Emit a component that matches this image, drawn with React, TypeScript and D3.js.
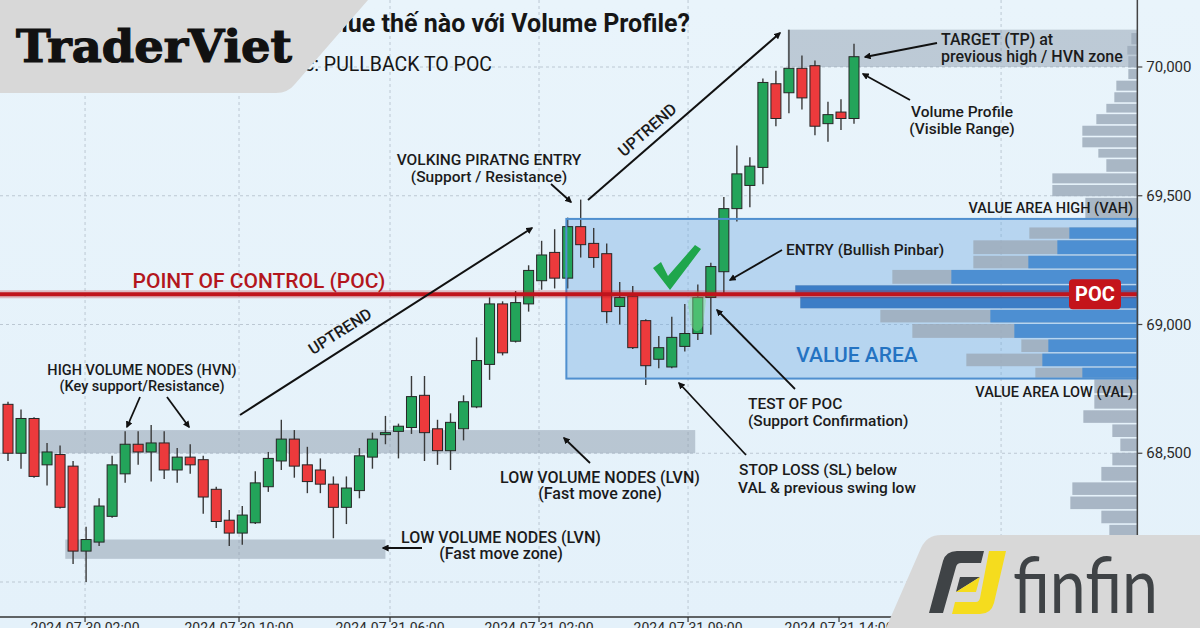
import React from "react";
import * as d3 from "d3";

const W = 1200;
const H = 628;

// ---- candle data (one candle per hour) ----
const candleOpen = [68690, 68500, 68635, 68455, 68495, 68450, 68120, 68155, 68255, 68420, 68535, 68505, 68540, 68435, 68485, 68475, 68360, 68240, 68190, 68230, 68370, 68470, 68555, 68455, 68435, 68380, 68290, 68355, 68485, 68575, 68585, 68600, 68725, 68595, 68510, 68595, 68680, 68845, 69080, 68935, 69080, 69170, 69280, 69180, 69380, 69315, 69275, 69070, 69110, 69015, 68865, 68835, 68915, 68965, 69105, 69205, 69450, 69540, 69610, 69935, 69900, 69995, 70005, 69780, 69825, 69800];
const candleHigh = [68700, 68670, 68640, 68540, 68530, 68470, 68215, 68325, 68490, 68585, 68585, 68610, 68585, 68520, 68535, 68490, 68370, 68280, 68295, 68430, 68505, 68630, 68590, 68525, 68480, 68410, 68410, 68520, 68580, 68645, 68615, 68800, 68800, 68630, 68655, 68725, 68950, 69105, 69090, 69130, 69230, 69325, 69370, 69415, 69485, 69375, 69315, 69165, 69150, 69020, 68955, 69030, 69080, 69155, 69240, 69495, 69695, 69650, 69955, 69985, 70145, 70045, 70025, 69865, 69875, 70090];
const candleLow = [68470, 68440, 68405, 68375, 68285, 68070, 68000, 68140, 68250, 68385, 68455, 68390, 68400, 68385, 68420, 68265, 68210, 68140, 68145, 68225, 68350, 68435, 68405, 68345, 68345, 68170, 68225, 68325, 68440, 68535, 68480, 68575, 68470, 68455, 68435, 68550, 68675, 68785, 68880, 68930, 69050, 69135, 69140, 69140, 69260, 69220, 69005, 69000, 68905, 68765, 68830, 68830, 68895, 68940, 68960, 69120, 69400, 69455, 69545, 69770, 69820, 69835, 69735, 69710, 69755, 69780];
const candleClose = [68500, 68635, 68410, 68505, 68290, 68120, 68165, 68295, 68455, 68535, 68505, 68540, 68435, 68485, 68455, 68330, 68235, 68190, 68260, 68385, 68480, 68555, 68450, 68390, 68380, 68290, 68365, 68490, 68555, 68580, 68605, 68720, 68580, 68510, 68620, 68700, 68860, 69080, 68890, 69085, 69210, 69270, 69180, 69380, 69310, 69260, 69050, 69105, 68910, 68840, 68910, 68950, 68965, 69105, 69225, 69450, 69585, 69615, 69940, 69800, 69995, 69880, 69770, 69815, 69800, 70040];

// ---- axes ----
const yTickValues = [68000, 68500, 69000, 69500, 70000];
const xTickLabels = ["2024-07-30 02:00", "2024-07-30 10:00", "2024-07-31 06:00", "2024-07-31 02:00", "2024-07-31 09:00", "2024-07-31 14:00"];
const xTickIndex = [5.92, 17.75, 29.35, 40.8, 52.25, 63.85];
const xGridIndex = [5.92, 17.75, 29.35, 40.8, 52.25, 76.3];

// ---- volume profile (bins: edges descending, volumes per bin) ----
const profileEdges = [70135, 70085, 70045, 69995, 69950, 69905, 69860, 69820, 69775, 69730, 69685, 69645, 69590, 69545, 69495, 69410,
  69380, 69330, 69270, 69215, 69155, 69110, 69060, 69005, 68945, 68890, 68835, 68790,
  68730, 68670, 68615, 68560, 68505, 68450, 68390, 68335, 68280, 68225, 68170, 68115, 68060, 68005, 67950];
const profileTotal = [60, 100, 90, 90, 210, 230, 310, 410, 550, 550, 390, 310, 850, 850, 520,
  0, 1080, 1640, 1640, 2450, 3420, 3370, 2570, 2250, 1160, 1710, 1020,
  430, 430, 540, 250, 170, 250, 360, 650, 670, 360, 280, 300, 250, 200, 150];
const profileInner = [0, 0, 0, 0, 0, 0, 0, 0, 0, 0, 0, 0, 0, 0, 0,
  0, 680, 800, 1090, 1860, 3420, 3370, 1470, 1230, 890, 950, 550,
  0, 0, 0, 0, 0, 0, 0, 0, 0, 0, 0, 0, 0, 0, 0];

// ---- key levels ----
const pocPrice = 69117;
const vahPrice = 69410;
const valPrice = 68790;
// zones: [startIndex, endIndex, highPrice, lowPrice]
const hvnZone = [2.3, 52.8, 68590, 68500];
const lvnZone = [4.4, 29.0, 68165, 68090];
const tpZone = [59.9, 86.8, 70145, 70000];
const vaStartIndex = 42.9;

const FONT = "Roboto, 'Noto Sans', sans-serif";

function Arrow({ x1, y1, x2, y2, w = 1.8 }: any) {
  return <line x1={x1} y1={y1} x2={x2} y2={y2} stroke="#111" strokeWidth={w} markerEnd="url(#arrowHead)" />;
}

function Label({ x, y, lines, anchor = "middle", size = 15.5, weight = 500, fill = "#1b1b1b", gap = 17, xs }: any) {
  return (
    <text x={x} y={y} textAnchor={anchor} fontFamily={FONT} fontSize={size} fontWeight={weight} fill={fill}>
      {lines.map((l: string, i: number) => (
        <tspan key={i} x={xs ? xs[i] : x} dy={i === 0 ? 0 : gap}>{l}</tspan>
      ))}
    </text>
  );
}

export default function App() {
  const x = d3.scaleLinear().domain([0, 65]).range([8, 854]);
  const y = d3.scaleLinear().domain([68000, 70000]).range([582, 67]);
  const axisX = x(86.77);
  const axisY = 617;
  const vol = d3.scaleLinear().domain([0, 3420]).range([0, 342]);
  const bodyW = 10;
  const fmt = d3.format(",");

  const bins = profileTotal.map((t, k) => ({
    top: profileEdges[k],
    bottom: profileEdges[k + 1],
    total: t,
    inner: profileInner[k],
  }));

  return (
    <svg width={W} height={H} viewBox={`0 0 ${W} ${H}`} style={{ display: "block", position: "absolute", left: 0, top: 0 }}>
      <defs>
        <marker id="arrowHead" viewBox="0 0 10 10" refX="8" refY="5" markerWidth="7" markerHeight="7" orient="auto" markerUnits="userSpaceOnUse">
          <path d="M0,0 L10,5 L0,10 Z" fill="#111" />
        </marker>
        <linearGradient id="bg" x1="0" y1="0" x2="0" y2="1">
          <stop offset="0" stopColor="#e9f4fb" />
          <stop offset="1" stopColor="#e4f1fa" />
        </linearGradient>
      </defs>
      <rect x={0} y={0} width={W} height={H} fill="url(#bg)" />

      {/* grid */}
      {yTickValues.map((v) => (
        <line key={"gy" + v} x1={0} x2={axisX} y1={y(v)} y2={y(v)} stroke="#bcc8d3" strokeWidth={1} strokeDasharray="3,3" />
      ))}
      {xGridIndex.map((v) => (
        <line key={"gx" + v} x1={x(v)} x2={x(v)} y1={0} y2={axisY} stroke="#bcc8d3" strokeWidth={1} strokeDasharray="3,3" />
      ))}

      {/* zones */}
      <rect x={x(hvnZone[0])} width={x(hvnZone[1]) - x(hvnZone[0])} y={y(hvnZone[2])} height={y(hvnZone[3]) - y(hvnZone[2])} fill="#8796a8" fillOpacity={0.48} />
      <rect x={x(lvnZone[0])} width={x(lvnZone[1]) - x(lvnZone[0])} y={y(lvnZone[2])} height={y(lvnZone[3]) - y(lvnZone[2])} fill="#8796a8" fillOpacity={0.48} />
      <rect x={x(tpZone[0])} width={axisX - x(tpZone[0])} y={y(tpZone[2])} height={y(tpZone[3]) - y(tpZone[2])} fill="#8796a8" fillOpacity={0.45} />
      <rect x={x(vaStartIndex)} width={axisX - x(vaStartIndex)} y={y(vahPrice)} height={y(valPrice) - y(vahPrice)} fill="#6aa6e0" fillOpacity={0.38} />

      {/* candles */}
      {candleOpen.map((o, i) => {
        const c = candleClose[i];
        const up = c >= o;
        const top = y(Math.max(o, c));
        const bot = y(Math.min(o, c));
        return (
          <g key={"c" + i}>
            <line x1={x(i)} x2={x(i)} y1={y(candleHigh[i])} y2={y(candleLow[i])} stroke="#3a3a3a" strokeWidth={1.4} />
            <rect x={x(i) - bodyW / 2} y={top} width={bodyW} height={Math.max(2, bot - top)} fill={up ? "#23a45a" : "#ec3a3c"} stroke="#262626" strokeWidth={1} />
          </g>
        );
      })}

      {/* pinbar glow */}
      <path d="M688,303 Q697,280 706,300 L703,326 Q697,336 691,326 Z" fill="#7fe08f" fillOpacity={0.45} />

      {/* check mark */}
      <path d="M653,268 L661,262 L668,276 L695,245 L701,249 L670,290 Z" fill="#1fa64c" />

      {/* volume profile */}
      {bins.map((b, k) =>
        b.total > 0 ? (
          <g key={"p" + k}>
            <rect x={axisX - vol(b.total)} width={vol(b.total)} y={y(b.top) + 0.8} height={y(b.bottom) - y(b.top) - 1.6} fill="#9eabbb" fillOpacity={0.85} />
            {b.inner > 0 && (
              <rect x={axisX - vol(b.inner)} width={vol(b.inner)} y={y(b.top) + 0.8} height={y(b.bottom) - y(b.top) - 1.6} fill={b.inner >= 3000 ? "#3c7dc6" : "#4d8fd2"} />
            )}
          </g>
        ) : null
      )}

      {/* value area border */}
      <rect x={x(vaStartIndex)} width={axisX - x(vaStartIndex)} y={y(vahPrice)} height={y(valPrice) - y(vahPrice)} fill="none" stroke="#4f8fcf" strokeWidth={2} />

      {/* POC line */}
      <line x1={0} x2={axisX} y1={y(pocPrice)} y2={y(pocPrice)} stroke="#c0141c" strokeOpacity={0.25} strokeWidth={8} />
      <line x1={0} x2={axisX} y1={y(pocPrice)} y2={y(pocPrice)} stroke="#c0141c" strokeWidth={4} />
      <rect x={1069} y={y(pocPrice) - 15} width={52} height={30} rx={4} fill="#c4141b" />
      <text x={1095} y={y(pocPrice) + 7} textAnchor="middle" fontFamily={FONT} fontSize={20} fontWeight={700} fill="#fff">POC</text>

      {/* axes */}
      <line x1={axisX} x2={axisX} y1={0} y2={axisY} stroke="#444" strokeWidth={1.5} />
      {yTickValues.map((v) => (
        <g key={"yt" + v}>
          <line x1={axisX} x2={axisX + 5} y1={y(v)} y2={y(v)} stroke="#444" strokeWidth={1.2} />
          <text x={axisX + 9} y={y(v) + 5} fontFamily={FONT} fontSize={15} fill="#2b2b2b">{fmt(v)}</text>
        </g>
      ))}
      <line x1={0} x2={axisX} y1={axisY} y2={axisY} stroke="#333" strokeWidth={1.3} />
      {xTickIndex.map((v, i) => (
        <g key={"xt" + i}>
          <line x1={x(v)} x2={x(v)} y1={axisY} y2={axisY + 5} stroke="#333" strokeWidth={1.2} />
          <text x={x(v)} y={axisY + 16} textAnchor="middle" fontFamily={FONT} fontSize={14} fill="#2b2b2b">{xTickLabels[i]}</text>
        </g>
      ))}

      {/* titles */}
      <text x={690} y={32} textAnchor="end" fontFamily={FONT} fontSize={25} fontWeight={700} fill="#161616">Giao dịch Pullback Value thế nào với Volume Profile?</text>
      <text x={492} y={71} textAnchor="end" fontFamily={FONT} fontSize={19.5} fontWeight={400} fill="#161616">Chiến lược: PULLBACK TO POC</text>

      {/* annotations */}
      <text x={259} y={288} textAnchor="middle" fontFamily={FONT} fontSize={21} fontWeight={500} fill="#b3161d">POINT OF CONTROL (POC)</text>
      <text x={857} y={362} textAnchor="middle" fontFamily={FONT} fontSize={21} fontWeight={500} fill="#2473c2">VALUE AREA</text>
      <Label x={1133} y={213} anchor="end" size={14.5} lines={["VALUE AREA HIGH (VAH)"]} />
      <Label x={1133} y={397} anchor="end" size={14.5} lines={["VALUE AREA LOW (VAL)"]} />
      <Label x={941} y={45} anchor="start" size={16} lines={["TARGET (TP) at", "previous high / HVN zone"]} />
      <Label x={962} y={117} lines={["Volume Profile", "(Visible Range)"]} />
      <Label x={786} y={255} anchor="start" lines={["ENTRY (Bullish Pinbar)"]} />
      <Label x={748} y={409} anchor="start" lines={["TEST OF POC", "(Support Confirmation)"]} />
      <Label x={818} y={475} xs={[818, 827]} lines={["STOP LOSS (SL) below", "VAL & previous swing low"]} gap={18} />
      <Label x={600} y={483} lines={["LOW VOLUME NODES (LVN)", "(Fast move zone)"]} size={16} gap={16} />
      <Label x={501} y={543} lines={["LOW VOLUME NODES (LVN)", "(Fast move zone)"]} size={16} gap={16} />
      <Label x={142} y={375} lines={["HIGH VOLUME NODES (HVN)", "(Key support/Resistance)"]} size={14.5} gap={16} />
      <Label x={489} y={165} lines={["VOLKING PIRATNG ENTRY", "(Support  / Resistance)"]} size={15.5} gap={17} />

      <Arrow x1={240} y1={415} x2={532} y2={228} w={2} />
      <Arrow x1={588} y1={200} x2={780} y2={33} w={2} />
      <text transform="translate(343,336) rotate(-32.6)" textAnchor="middle" fontFamily={FONT} fontSize={16} fontWeight={500} fill="#1b1b1b">UPTREND</text>
      <text transform="translate(651,134) rotate(-41)" textAnchor="middle" fontFamily={FONT} fontSize={16} fontWeight={500} fill="#1b1b1b">UPTREND</text>

      <Arrow x1={140} y1={397} x2={127} y2={427} />
      <Arrow x1={167} y1={397} x2={189} y2={427} />
      <Arrow x1={590} y1={463} x2={564} y2={438} />
      <Arrow x1={422} y1={548} x2={383} y2={548} />
      <Arrow x1={746} y1={455} x2={679} y2={383} />
      <Arrow x1={795} y1={389} x2={717} y2={310} />
      <Arrow x1={782} y1={250} x2={730} y2={280} />
      <Arrow x1={551} y1={184} x2={571} y2={202} />
      <Arrow x1={937} y1={43} x2={865} y2={57} />
      <Arrow x1={910} y1={100} x2={863} y2={74} />

      {/* TraderViet logo */}
      <path d="M0,0 L368,0 L295,84 Q288,93 276,93 L0,93 Z" fill="#d8d8d8" />
      <text x={16} y={62} fontFamily="'DejaVu Serif', serif" fontSize={44} fontWeight={700} fill="#111" stroke="#111" strokeWidth={1.2} textLength={276} lengthAdjust="spacingAndGlyphs">TraderViet</text>

      {/* finfin logo */}
      <path d="M886,628 L921,548 Q927,535 941,535 L1200,535 L1200,628 Z" fill="#d8d8d8" />
      <path d="M929,613 L943,561 Q946,551 957,551 L984,551 L981,563 L961,563 Q957,563 956,567 L943,613 Z" fill="#3f4346" />
      <path d="M960,577 L980,577 L956,592 Z" fill="#3f4346" />
      <path d="M980,577 L976,592 L956,592 Z" fill="#f5dc1e" />
      <path d="M989,551 L1006,551 L994,603 Q991,614 980,614 L952,614 L955,602 L976,602 Q979,602 980,598 Z" fill="#f5dc1e" />
      <text x={1013} y={613} fontFamily="Lato, 'Noto Sans', sans-serif" fontSize={78} fontWeight={400} fill="#3f4346" textLength={145} lengthAdjust="spacingAndGlyphs">finfin</text>
    </svg>
  );
}
